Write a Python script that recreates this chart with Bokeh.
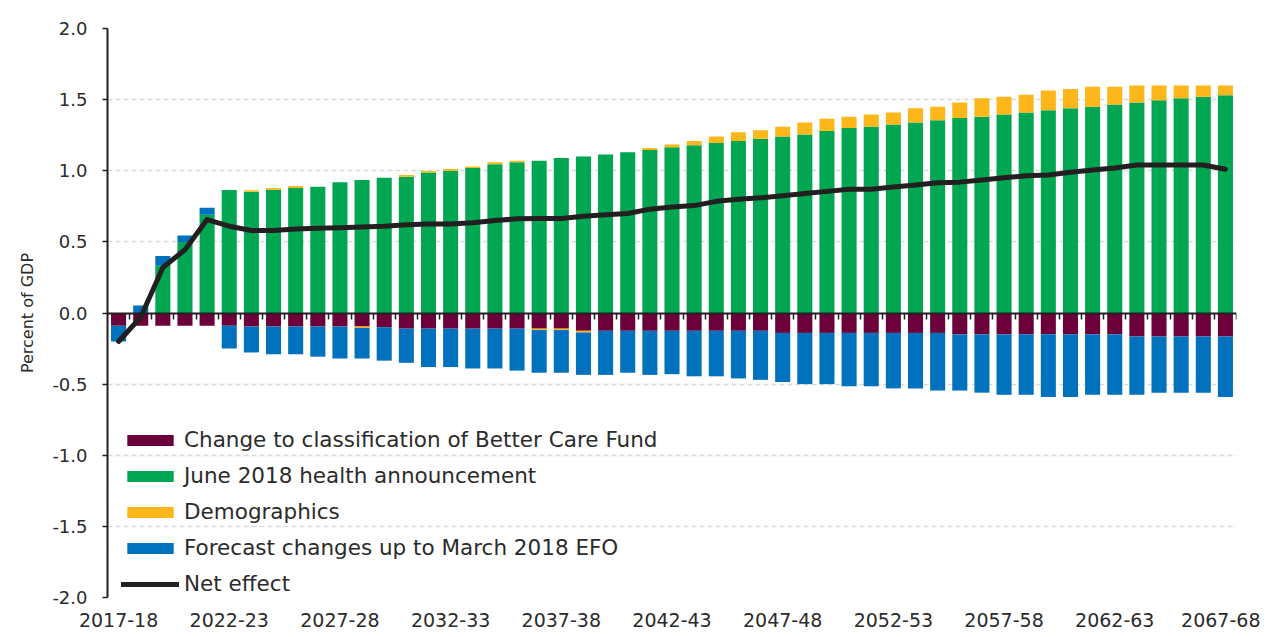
from bokeh.plotting import figure
from bokeh.models import (ColumnDataSource, Range1d, FixedTicker, LinearAxis,
                          NumeralTickFormatter, Legend, LegendItem,
                          CustomJSTickFormatter)
from bokeh.embed import file_html
from bokeh.resources import INLINE

years = [f"{y}-{(y + 1) % 100:02d}" for y in range(2017, 2068)]

health = [0, 0, 0.333, 0.50, 0.69, 0.865, 0.853, 0.867, 0.881, 0.888,
          0.92, 0.935, 0.95, 0.958, 0.987, 1.00, 1.02, 1.045, 1.06, 1.07,
          1.09, 1.10, 1.115, 1.13, 1.145, 1.165, 1.18, 1.195, 1.21, 1.225,
          1.24, 1.255, 1.28, 1.30, 1.31, 1.325, 1.34, 1.355, 1.37, 1.38,
          1.395, 1.41, 1.425, 1.44, 1.45, 1.465, 1.48, 1.495, 1.51, 1.52, 1.53]

demo_pos = [0, 0, 0, 0, 0, 0, 0.01, 0.012, 0.012, 0, 0, 0, 0, 0.012, 0.012,
            0.013, 0.01, 0.015, 0.01, 0, 0, 0, 0, 0, 0.015, 0.02, 0.03, 0.045,
            0.06, 0.06, 0.07, 0.085, 0.085, 0.08, 0.085, 0.085, 0.10, 0.095,
            0.11, 0.13, 0.125, 0.125, 0.14, 0.135, 0.14, 0.125, 0.12, 0.105,
            0.09, 0.08, 0.07]

forecast_pos = [0, 0.053, 0.067, 0.045, 0.05] + [0] * 46

bcf = ([-0.09] * 6 + [-0.095] * 6 + [-0.10] + [-0.11] * 8 + [-0.125] * 9
       + [-0.14] * 8 + [-0.15] * 8 + [-0.165] * 5)

demo_neg = [0] * 11 + [-0.01] + [0] * 7 + [-0.01, -0.01, -0.012] + [0] * 29

forecast_neg = [-0.11, 0, 0, 0, 0, -0.16, -0.182, -0.195, -0.195, -0.212,
                -0.225, -0.215, -0.235, -0.24, -0.27, -0.27, -0.28, -0.28,
                -0.295, -0.30, -0.30, -0.298, -0.31, -0.295, -0.31, -0.305,
                -0.32, -0.32, -0.335, -0.345, -0.345, -0.36, -0.36, -0.375,
                -0.375, -0.39, -0.39, -0.405, -0.395, -0.41, -0.425, -0.425,
                -0.44, -0.44, -0.425, -0.425, -0.41, -0.395, -0.395, -0.395,
                -0.425]

net = [-0.2, -0.03, 0.32, 0.445, 0.657, 0.61, 0.58, 0.58, 0.59, 0.595, 0.60,
       0.605, 0.61, 0.62, 0.625, 0.625, 0.634, 0.65, 0.662, 0.665, 0.665,
       0.68, 0.69, 0.70, 0.73, 0.745, 0.755, 0.785, 0.80, 0.81, 0.825, 0.84,
       0.855, 0.87, 0.87, 0.885, 0.90, 0.915, 0.92, 0.935, 0.95, 0.965, 0.97,
       0.99, 1.005, 1.02, 1.04, 1.04, 1.04, 1.04, 1.01]

PURPLE = "#6C003A"
GREEN = "#00A651"
ORANGE = "#FDB71A"
BLUE = "#0071BC"
LINE = "#231F20"
TEXT = "#2B2B2B"
FONT = "DejaVu Sans"

idx = list(range(len(years)))
src = ColumnDataSource(dict(x=idx, health=health, demo_pos=demo_pos,
                            forecast_pos=forecast_pos, bcf=bcf,
                            demo_neg=demo_neg, forecast_neg=forecast_neg,
                            net=net))

p = figure(width=1260, height=634, output_backend="svg", toolbar_location=None,
           x_range=Range1d(-0.5, len(years) - 0.5), y_range=Range1d(-2, 2),
           x_axis_location=None, min_border_left=107, min_border_right=24,
           min_border_top=28, min_border_bottom=37)
p.outline_line_color = None
p.xgrid.visible = False
p.ygrid.grid_line_color = "#D9D9D9"
p.ygrid.grid_line_width = 1.5
p.ygrid.grid_line_dash = "5 3"
p.ygrid.ticker = FixedTicker(ticks=[-2, -1.5, -1, -0.5, 0.5, 1, 1.5, 2])

W = 0.68
pos = p.vbar_stack(["health", "demo_pos", "forecast_pos"], x="x", width=W,
                   color=[GREEN, ORANGE, BLUE], source=src, line_color=None)
neg = p.vbar_stack(["bcf", "demo_neg", "forecast_neg"], x="x", width=W,
                   color=[PURPLE, ORANGE, BLUE], source=src, line_color=None)
ln = p.line("x", "net", source=src, line_color=LINE, line_width=5,
            line_join="round", line_cap="round")

# y axis
ya = p.yaxis[0]
ya.ticker = FixedTicker(ticks=[-2, -1.5, -1, -0.5, 0, 0.5, 1, 1.5, 2])
ya.formatter = NumeralTickFormatter(format="0.0")
ya.axis_line_color = LINE
ya.axis_line_width = 2
ya.major_tick_line_color = LINE
ya.major_tick_line_width = 1.5
ya.major_tick_out = 5
ya.major_tick_in = 0
ya.minor_tick_line_color = None
ya.major_label_text_font = FONT
ya.major_label_text_font_size = "18px"
ya.major_label_text_color = TEXT
ya.major_label_standoff = 15
ya.axis_label = "Percent of GDP"
ya.axis_label_text_font = FONT
ya.axis_label_text_font_size = "16px"
ya.axis_label_text_font_style = "normal"
ya.axis_label_text_color = TEXT
ya.axis_label_standoff = 12

# bottom category labels
xa = LinearAxis(ticker=FixedTicker(ticks=list(range(0, len(years), 5))),
                major_label_overrides={i: years[i] for i in range(0, len(years), 5)})
xa.axis_line_color = None
xa.major_tick_line_color = None
xa.minor_tick_line_color = None
xa.major_label_text_font = FONT
xa.major_label_text_font_size = "19px"
xa.major_label_text_color = TEXT
xa.major_label_standoff = 9
p.add_layout(xa, "below")

# zero line axis with ticks between bars (placed above so it takes no bottom space)
za = LinearAxis(fixed_location=0,
                ticker=FixedTicker(ticks=[i + 0.5 for i in range(len(years))]),
                formatter=CustomJSTickFormatter(code="return ''"))
za.axis_line_color = LINE
za.axis_line_width = 2
za.major_tick_line_color = LINE
za.major_tick_line_width = 1.5
za.major_tick_out = 0
za.major_tick_in = 6
za.minor_tick_line_color = None
za.major_label_standoff = 0
p.add_layout(za, "above")

legend = Legend(items=[
    LegendItem(label="Change to classification of Better Care Fund", renderers=[neg[0]]),
    LegendItem(label="June 2018 health announcement", renderers=[pos[0]]),
    LegendItem(label="Demographics", renderers=[pos[1]]),
    LegendItem(label="Forecast changes up to March 2018 EFO", renderers=[pos[2]]),
    LegendItem(label="Net effect", renderers=[ln]),
], location=(14, 1), padding=0, margin=0, spacing=11,
    glyph_width=58, glyph_height=14, label_height=22, label_standoff=5,
    label_text_font=FONT, label_text_font_size="21.5px", label_text_color=TEXT,
    background_fill_alpha=0, border_line_color=None)
p.add_layout(legend, "center")

open("out.html", "w").write(file_html(p, INLINE))
